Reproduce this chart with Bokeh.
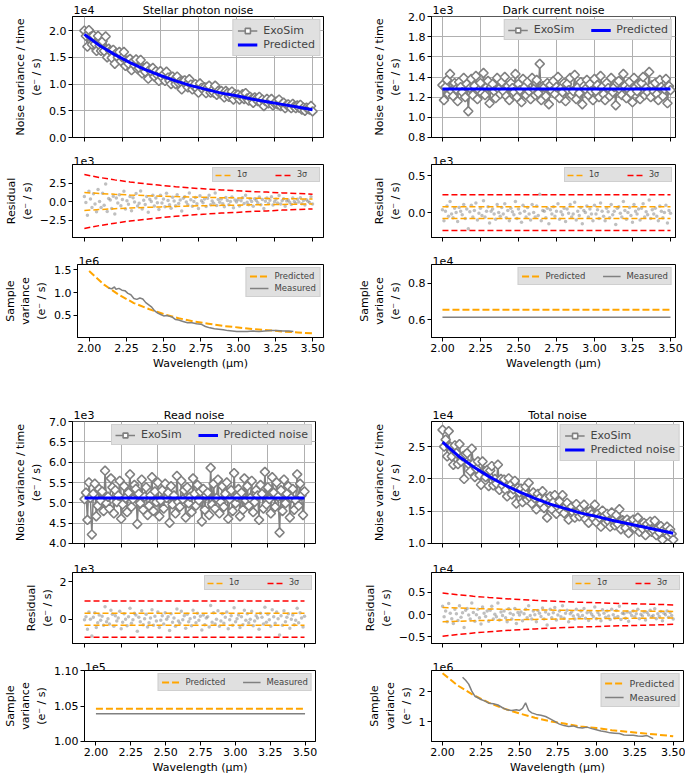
import numpy as np
from bokeh.plotting import figure
from bokeh.models import (Range1d, FixedTicker, CustomJSTickFormatter, Legend, LegendItem,
                          LinearAxis)
from bokeh.layouts import column, row
from bokeh.embed import file_html
from bokeh.resources import INLINE

FONT = "DejaVu Sans"
GRAY = "#808080"
ORANGE = "#FFA500"
RED = "#FF0000"
BLUE = "#0000FF"

# ---------------- data ----------------
wl_knots = [2.0, 2.1, 2.2, 2.3, 2.4, 2.5, 2.6, 2.7, 2.8, 2.9, 3.0, 3.1, 3.2, 3.3, 3.4, 3.5]
wl_flat = [2.0, 3.5]
x_ticks = [2.0, 2.25, 2.5, 2.75, 3.0, 3.25, 3.5]

# Stellar photon noise (main x1e4, residual x1e3, sample variance x1e6)
stellar_exosim = [2.00, 1.90, 1.70, 2.01, 1.88, 1.74, 1.91, 1.75, 1.62, 1.90,
                  1.72, 1.62, 1.80, 1.62, 1.89, 1.50, 1.66, 1.62, 1.49, 1.64,
                  1.38, 1.58, 1.50, 1.60, 1.43, 1.50, 1.60, 1.34, 1.44, 1.38,
                  1.47, 1.26, 1.42, 1.35, 1.46, 1.28, 1.30, 1.45, 1.20, 1.30,
                  1.23, 1.33, 1.10, 1.27, 1.23, 1.30, 1.14, 1.24, 1.17, 1.06,
                  1.24, 1.13, 1.18, 1.06, 1.23, 1.12, 1.06, 1.00, 1.14, 1.08,
                  1.00, 1.14, 1.02, 1.05, 0.90, 1.06, 1.07, 0.99, 0.94, 1.09,
                  0.99, 0.90, 0.96, 1.00, 0.91, 0.84, 1.01, 0.93, 0.90, 0.94,
                  0.83, 0.94, 0.97, 0.84, 0.88, 0.84, 0.97, 0.80, 0.87, 0.83,
                  0.87, 0.80, 0.75, 0.87, 0.83, 0.76, 0.80, 0.86, 0.71, 0.81,
                  0.78, 0.80, 0.71, 0.77, 0.81, 0.72, 0.83, 0.73, 0.69, 0.76,
                  0.72, 0.65, 0.75, 0.72, 0.68, 0.76, 0.65, 0.71, 0.59, 0.68,
                  0.72, 0.64, 0.68, 0.72, 0.60, 0.64, 0.67, 0.62, 0.71, 0.59,
                  0.63, 0.65, 0.55, 0.61, 0.62, 0.58, 0.55, 0.63, 0.58, 0.55,
                  0.60, 0.56, 0.61, 0.52, 0.56, 0.50, 0.56, 0.54, 0.52, 0.59,
                  0.49]
stellar_pred = [1.93, 1.72, 1.55, 1.40, 1.27, 1.16, 1.06, 0.97, 0.90, 0.83, 0.78, 0.72, 0.67, 0.62, 0.57, 0.52]
stellar_resid = [0.69, -0.12, -1.84, 1.38, 0.35, -0.81, 1.04, -0.35, -1.38, 1.61,
                 0.00, -0.82, 1.13, -0.52, 2.37, -1.34, 0.41, 0.21, -0.93, 0.72,
                 -1.67, 0.47, -0.19, 0.93, -0.56, 0.28, 1.40, -1.02, 0.09, -0.37,
                 0.67, -1.26, 0.50, -0.08, 1.09, -0.59, -0.25, 1.43, -1.01, 0.17,
                 -0.39, 0.69, -1.46, 0.31, 0.00, 0.85, -0.62, 0.46, -0.15, -1.08,
                 0.84, -0.21, 0.35, -0.70, 1.12, 0.14, -0.42, -0.91, 0.56, 0.07,
                 -0.58, 0.90, -0.26, 0.19, -1.28, 0.45, 0.64, -0.06, -0.45, 1.15,
                 0.24, -0.65, 0.00, 0.53, -0.30, -0.94, 0.77, 0.12, -0.18, 0.35,
                 -0.66, 0.44, 0.83, -0.44, 0.06, -0.22, 1.16, -0.55, 0.28, -0.11,
                 0.35, -0.30, -0.70, 0.55, 0.15, -0.45, 0.00, 0.60, -0.85, 0.20,
                 -0.05, 0.24, -0.61, 0.09, 0.52, -0.28, 0.85, -0.09, -0.42, 0.33,
                 0.00, -0.65, 0.39, 0.13, -0.17, 0.60, -0.43, 0.26, -0.95, 0.04,
                 0.48, -0.28, 0.16, 0.64, -0.48, -0.04, 0.32, -0.20, 0.80, -0.32,
                 0.11, 0.37, -0.63, 0.07, 0.22, -0.11, -0.41, 0.48, 0.00, -0.22,
                 0.31, -0.07, 0.51, -0.31, 0.14, -0.48, 0.24, 0.03, -0.14, 0.65,
                 -0.33]
stellar_predvar = [1.47, 1.17, 0.95, 0.77, 0.64, 0.53, 0.44, 0.37, 0.32, 0.27, 0.24, 0.20, 0.18, 0.15, 0.13, 0.11]
stellar_meas_wl = [2.13, 2.15, 2.17, 2.18, 2.20, 2.22, 2.24, 2.26, 2.28, 2.30,
                   2.32, 2.34, 2.36, 2.38, 2.40, 2.42, 2.44, 2.46, 2.48, 2.50,
                   2.52, 2.54, 2.56, 2.58, 2.60, 2.63, 2.66, 2.69, 2.72, 2.75,
                   2.78, 2.81, 2.84, 2.87, 2.90, 2.93, 2.96, 2.99, 3.02, 3.06,
                   3.10, 3.14, 3.18, 3.22, 3.26, 3.30, 3.34, 3.37]
stellar_meas_var = [1.10, 1.08, 1.12, 1.07, 1.09, 1.05, 1.04, 0.98, 0.95, 0.87,
                    0.85, 0.88, 0.86, 0.78, 0.73, 0.68, 0.60, 0.55, 0.52, 0.49,
                    0.50, 0.48, 0.46, 0.41, 0.40, 0.37, 0.34, 0.34, 0.32, 0.31,
                    0.26, 0.23, 0.21, 0.20, 0.19, 0.17, 0.16, 0.15, 0.15, 0.15,
                    0.16, 0.15, 0.16, 0.17, 0.17, 0.16, 0.16, 0.15]

# Dark current noise (main x1e3, residual x1e3, sample variance x1e4)
dark_level = 1.28
dark_resid = [0.04, -0.11, 0.02, 0.09, -0.05, 0.15, -0.02, -0.07, 0.06, 0.00,
              -0.12, 0.07, 0.02, -0.03, 0.11, -0.08, 0.05, -0.22, 0.01, 0.10,
              -0.06, 0.03, 0.13, -0.10, -0.01, 0.06, -0.04, 0.16, -0.06, 0.02,
              0.08, -0.14, 0.02, 0.05, -0.02, -0.09, 0.11, 0.00, -0.05, 0.07,
              -0.02, 0.12, -0.07, 0.03, -0.11, 0.06, 0.01, -0.03, 0.15, -0.08,
              0.05, -0.01, -0.13, 0.10, 0.02, -0.06, 0.07, -0.02, -0.10, 0.11,
              0.00, -0.06, 0.09, -0.04, 0.25, -0.11, 0.03, 0.02, -0.07, 0.06,
              -0.15, 0.04, -0.02, 0.08, -0.05, 0.02, 0.12, -0.09, 0.01, -0.03,
              0.06, -0.12, 0.05, -0.01, 0.11, -0.06, -0.02, 0.14, -0.10, 0.02,
              -0.04, 0.07, -0.15, 0.03, 0.00, 0.09, -0.06, 0.05, -0.02, -0.11,
              0.10, -0.02, 0.04, -0.08, 0.13, 0.02, -0.05, -0.11, 0.06, 0.01,
              -0.07, 0.11, -0.03, 0.02, -0.16, 0.06, 0.08, -0.01, -0.06, 0.15,
              0.03, -0.09, 0.00, 0.07, -0.04, -0.13, 0.11, 0.02, -0.02, 0.05,
              -0.10, 0.06, 0.12, -0.06, 0.01, -0.03, 0.17, -0.08, 0.04, -0.02,
              0.06, -0.05, -0.11, 0.09, 0.02, -0.07, 0.00, 0.10, -0.14, 0.03,
              -0.01]
dark_predvar = [0.655, 0.655]
dark_meas_var = [0.613, 0.613]

# Read noise (main x1e3, residual x1e3, sample variance x1e5)
read_level = 5.12
read_resid = [-0.03,
              0.13, -0.54, 0.38, 0.00, -0.90, 0.10, 0.35, -0.45, -0.19, 0.22,
              -0.06, 0.16, -0.32, 0.67, -0.13, 0.03, -0.26, 0.48, 0.26, -0.38,
              0.19, -0.10, 0.06, 0.42, -0.51, -0.16, 0.29, 0.00, -0.35, 0.13,
              0.58, -0.22, -0.03, 0.32, 0.22, -0.64, 0.10, -0.13, 0.45, -0.29,
              0.03, 0.26, -0.42, -0.19, 0.06, 0.51, -0.32, 0.16, -0.10, 0.38,
              -0.45, -0.06, 0.19, -0.26, 0.35, 0.00, 0.13, -0.61, 0.29, -0.16,
              0.06, -0.38, 0.54, -0.10, -0.22, 0.42, -0.03, 0.19, -0.48, 0.26,
              -0.13, 0.03, -0.35, 0.48, 0.10, -0.19, 0.32, -0.06, 0.16, -0.58,
              0.22, -0.29, 0.06, 0.13, -0.42, 0.74, -0.16, 0.35, -0.26, 0.00,
              0.45, -0.38, -0.10, 0.29, -0.22, 0.10, 0.38, -0.51, -0.03, 0.19,
              -0.32, 0.61, -0.13, 0.03, 0.22, -0.45, 0.13, -0.29, 0.48, -0.06,
              0.29, -0.19, 0.00, 0.42, -0.35, -0.10, 0.19, 0.06, -0.54, 0.32,
              0.10, -0.26, 0.64, -0.16, 0.26, -0.03, -0.38, 0.51, 0.13, -0.22,
              0.38, 0.03, -0.85, 0.19, -0.32, 0.45, -0.13, 0.10, 0.29, -0.48,
              0.00, 0.22, -0.29, -0.06, 0.58, -0.19, 0.35, 0.06, -0.42, 0.16]
read_predvar = [1.046, 1.046]
read_meas_var = [1.039, 1.039]

# Total noise (main x1e4, residual x1e4, sample variance x1e6)
total_exosim = [2.76, 2.50, 2.61, 2.35, 2.74, 2.50, 2.35, 2.22, 2.52, 2.40,
                2.23, 2.54, 2.27, 2.35, 2.00, 2.38, 2.40, 2.23, 2.12, 2.47,
                2.24, 2.03, 2.16, 2.27, 2.06, 1.91, 2.27, 2.12, 2.03, 2.14,
                1.89, 2.13, 2.20, 1.90, 2.00, 1.93, 2.22, 1.83, 2.00, 1.90,
                1.99, 1.83, 1.73, 2.01, 1.90, 1.76, 1.84, 1.97, 1.62, 1.86,
                1.79, 1.85, 1.64, 1.79, 1.88, 1.68, 1.94, 1.71, 1.62, 1.79,
                1.70, 1.53, 1.77, 1.70, 1.62, 1.81, 1.55, 1.70, 1.40, 1.63,
                1.73, 1.53, 1.64, 1.75, 1.46, 1.57, 1.65, 1.51, 1.75, 1.47,
                1.57, 1.63, 1.37, 1.54, 1.57, 1.48, 1.40, 1.61, 1.48, 1.42,
                1.55, 1.45, 1.60, 1.38, 1.49, 1.32, 1.50, 1.45, 1.39, 1.60,
                1.33, 1.46, 1.40, 1.26, 1.51, 1.42, 1.32, 1.46, 1.34, 1.26,
                1.48, 1.36, 1.28, 1.44, 1.30, 1.53, 1.22, 1.36, 1.34, 1.24,
                1.37, 1.16, 1.34, 1.28, 1.37, 1.24, 1.30, 1.40, 1.18, 1.28,
                1.23, 1.32, 1.13, 1.30, 1.23, 1.34, 1.18, 1.21, 1.35, 1.13,
                1.23, 1.17, 1.27, 1.06, 1.22, 1.19, 1.26, 1.12, 1.22, 1.15,
                1.06]
total_pred = [2.57, 2.36, 2.19, 2.04, 1.91, 1.80, 1.70, 1.61, 1.54, 1.47, 1.42, 1.36, 1.31, 1.26, 1.21, 1.16]
total_resid = [0.19, -0.05, 0.08, -0.16, 0.25, 0.03, -0.09, -0.20, 0.12, 0.02,
               -0.13, 0.20, -0.06, 0.04, -0.29, 0.10, 0.14, -0.01, -0.10, 0.26,
               0.05, -0.15, 0.00, 0.12, -0.07, -0.21, 0.17, 0.03, -0.04, 0.08,
               -0.15, 0.10, 0.19, -0.10, 0.01, -0.05, 0.26, -0.12, 0.06, -0.02,
               0.08, -0.07, -0.16, 0.13, 0.03, -0.10, 0.00, 0.14, -0.20, 0.05,
               -0.01, 0.06, -0.14, 0.02, 0.12, -0.07, 0.20, -0.02, -0.10, 0.08,
               0.00, -0.16, 0.09, 0.03, -0.04, 0.15, -0.10, 0.06, -0.23, 0.01,
               0.12, -0.07, 0.04, 0.16, -0.12, -0.01, 0.08, -0.05, 0.20, -0.08,
               0.03, 0.10, -0.16, 0.02, 0.06, -0.03, -0.10, 0.12, 0.00, -0.06,
               0.08, -0.02, 0.14, -0.08, 0.04, -0.13, 0.06, 0.01, -0.04, 0.17,
               -0.09, 0.05, -0.01, -0.14, 0.11, 0.03, -0.06, 0.08, -0.03, -0.11,
               0.12, 0.00, -0.07, 0.09, -0.04, 0.19, -0.11, 0.03, 0.02, -0.08,
               0.06, -0.15, 0.04, -0.02, 0.08, -0.05, 0.02, 0.12, -0.09, 0.01,
               -0.03, 0.06, -0.12, 0.05, -0.01, 0.10, -0.05, -0.02, 0.13, -0.09,
               0.02, -0.04, 0.07, -0.14, 0.03, 0.00, 0.08, -0.06, 0.05, -0.02,
               -0.10]
total_predvar = [2.61, 2.20, 1.89, 1.64, 1.44, 1.28, 1.14, 1.02, 0.94, 0.85, 0.80, 0.73, 0.68, 0.63, 0.58, 0.53]
total_meas_wl = [2.13, 2.15, 2.17, 2.19, 2.21, 2.23, 2.25, 2.28, 2.30, 2.33,
                 2.36, 2.39, 2.42, 2.45, 2.48, 2.50, 2.52, 2.54, 2.56, 2.58,
                 2.61, 2.64, 2.67, 2.70, 2.73, 2.76, 2.79, 2.82, 2.85, 2.88,
                 2.91, 2.94, 2.97, 3.00, 3.03, 3.06, 3.09, 3.12, 3.15, 3.18,
                 3.21, 3.24, 3.27, 3.30, 3.33, 3.35, 3.37]
total_meas_var = [2.48, 2.38, 2.25, 2.02, 1.85, 1.80, 1.74, 1.68, 1.62, 1.60,
                  1.56, 1.47, 1.40, 1.38, 1.40, 1.38, 1.45, 1.63, 1.38, 1.30,
                  1.25, 1.22, 1.18, 1.10, 1.02, 0.93, 0.88, 0.85, 0.87, 0.82,
                  0.80, 0.83, 0.78, 0.74, 0.70, 0.68, 0.64, 0.63, 0.62, 0.57,
                  0.56, 0.56, 0.54, 0.53, 0.55, 0.50, 0.45]

# main-series values of the flat panels: predicted level + residual
dark_exosim = (dark_level + np.asarray(dark_resid)).tolist()
read_exosim = (read_level + np.asarray(read_resid)).tolist()


# ---------------- helpers ----------------
def fmt(dec):
    return CustomJSTickFormatter(code="return tick.toFixed(%d).replace('-', '\u2212');" % dec)


def style_axis(ax):
    ax.axis_line_color = "black"
    ax.major_tick_line_color = "black"
    ax.major_tick_out = 4
    ax.major_tick_in = 0
    ax.minor_tick_line_color = None
    ax.major_label_text_font = FONT
    ax.major_label_text_font_size = "11px"
    ax.major_label_text_color = "black"
    ax.axis_label_text_font = FONT
    ax.axis_label_text_font_size = "11px"
    ax.axis_label_text_font_style = "normal"
    ax.axis_label_text_color = "black"


def base_fig(geom, xr, yr, yticks, ydec, ylabel, offset, title=None, xlabels=False, grid=False):
    w, h, bl, br, bt, bb = geom
    p = figure(width=w, height=h, x_range=Range1d(*xr), y_range=Range1d(*yr),
               min_border_left=bl, min_border_right=br, min_border_top=bt, min_border_bottom=bb,
               output_backend="svg", toolbar_location=None, tools="")
    p.outline_line_color = "black"
    p.outline_line_width = 1
    p.background_fill_color = "white"
    p.border_fill_color = "white"
    style_axis(p.xaxis[0])
    style_axis(p.yaxis[0])
    p.xaxis.ticker = FixedTicker(ticks=x_ticks)
    p.yaxis.ticker = FixedTicker(ticks=yticks)
    p.yaxis.formatter = fmt(ydec)
    p.yaxis.major_label_standoff = 2
    p.yaxis.axis_label = ylabel
    p.yaxis.axis_label_standoff = 3
    if xlabels:
        p.xaxis.formatter = fmt(2)
        p.xaxis.major_label_standoff = 2
        p.xaxis.axis_label = "Wavelength (\u03bcm)"
        p.xaxis.axis_label_standoff = 2
    else:
        p.xaxis.major_label_text_font_size = "1px"
        p.xaxis.major_label_text_alpha = 0
        p.xaxis.major_label_standoff = 0
    if grid:
        p.xgrid.ticker = FixedTicker(ticks=x_ticks)
        p.ygrid.ticker = FixedTicker(ticks=yticks)
        p.grid.grid_line_color = "#b0b0b0"
        p.grid.grid_line_width = 1
    else:
        p.grid.visible = False

    # texts above the frame: scale factor (left) and panel title (centre)
    frame_w = w - bl - br
    ticks = [xr[0] + 11.5 * (xr[1] - xr[0]) / frame_w]
    labels = [offset]
    if title:
        ticks.append((xr[0] + xr[1]) / 2)
        labels.append(title)
    top = LinearAxis(ticker=FixedTicker(ticks=ticks),
                     formatter=CustomJSTickFormatter(args=dict(labels=labels), code="return labels[index];"),
                     axis_line_color=None, major_tick_line_color=None, minor_tick_line_color=None,
                     major_tick_out=0, major_tick_in=0, major_label_standoff=0,
                     major_label_text_font=FONT, major_label_text_font_size="11px",
                     major_label_text_color="black")
    p.add_layout(top, "above")
    return p


def add_legend(p, items, orientation, font_size, glyph_w, glyph_h, standoff, spacing, padding, margin=3):
    lg = Legend(items=[LegendItem(label=l, renderers=r) for l, r in items],
                location="top_right", orientation=orientation,
                label_text_font=FONT, label_text_font_size=font_size,
                glyph_width=glyph_w, glyph_height=glyph_h, label_height=glyph_h,
                label_standoff=standoff, spacing=spacing, padding=padding, margin=margin,
                background_fill_color="#e0e0e0", background_fill_alpha=1.0,
                border_line_color="#bdbdbd", border_line_width=1)
    p.add_layout(lg)


def main_panel(geom, xr, yr, yticks, offset, title, exo, pred_x, pred_y, pred_label, orient):
    p = base_fig(geom, xr, yr, yticks, 1, "Noise variance / time\n(e\u207b / s)", offset, title, grid=True)
    x = np.linspace(2.0, 3.5, len(exo))
    rl = p.line(x, exo, line_color=GRAY, line_width=1.5)
    rs = p.scatter(x, exo, marker="square", angle=np.pi / 4, size=6.5, line_color=GRAY,
                   line_width=1.6, fill_color="white")
    rp = p.line(pred_x, pred_y, line_color=BLUE, line_width=3)
    if orient == "vertical":
        add_legend(p, [("ExoSim", [rl, rs]), (pred_label, [rp])], "vertical", "11px", 20, 13, 6, 1, 4)
    else:
        add_legend(p, [("ExoSim", [rl, rs]), (pred_label, [rp])], "horizontal", "11px", 20, 12, 6, 16, 3)
    return p


def resid_panel(geom, xr, yr, yticks, ydec, offset, resid, sig_x, sig):
    p = base_fig(geom, xr, yr, yticks, ydec, "Residual\n(e\u207b / s)", offset)
    x = np.linspace(2.0, 3.5, len(resid))
    p.scatter(x, resid, size=3.5, fill_color=GRAY, fill_alpha=0.5, line_color=None)
    sig = np.asarray(sig)
    r1 = p.line(sig_x, sig, line_color=ORANGE, line_width=1.5, line_dash="6 3")
    p.line(sig_x, -sig, line_color=ORANGE, line_width=1.5, line_dash="6 3")
    r3 = p.line(sig_x, 3 * sig, line_color=RED, line_width=1.5, line_dash="6 3")
    p.line(sig_x, -3 * sig, line_color=RED, line_width=1.5, line_dash="6 3")
    add_legend(p, [("1\u03c3", [r1]), ("3\u03c3", [r3])], "horizontal", "8px", 16, 8, 6, 18, 2)
    return p


def sample_panel(geom, xr, yr, yticks, ydec, offset, px, pv, mx, mv, orient, fsize="8.5px"):
    p = base_fig(geom, xr, yr, yticks, ydec, "Sample\nvariance\n(e\u207b / s)", offset, xlabels=True)
    rp = p.line(px, pv, line_color=ORANGE, line_width=2, line_dash="7 3")
    rm = p.line(mx, mv, line_color=GRAY, line_width=1.5)
    if orient == "vertical":
        gh = 12 if fsize == "9.5px" else 10
        add_legend(p, [("Predicted", [rp]), ("Measured", [rm])], "vertical", fsize, 19, gh, 6, 2, 3)
    else:
        add_legend(p, [("Predicted", [rp]), ("Measured", [rm])], "horizontal", fsize, 18, 10, 6, 17, 3)
    return p


def sigma_from(predvar, var_exp, res_exp):
    return np.sqrt(np.asarray(predvar) * 10.0 ** var_exp) / 10.0 ** res_exp


# ---------------- geometry ----------------
TL = dict(w=342, bl=72, br=19)
TR = dict(w=343, bl=89, br=10)
BL = dict(w=342, bl=72, br=27)
BR = dict(w=343, bl=89, br=2)
ROWS = [(150, 14, 13), (100, 14, 13), (135, 14, 48), (165, 36, 7), (100, 22, 7), (126, 20, 34)]


def g(col, r):
    h, bt, bb = ROWS[r]
    return (col["w"], h, col["bl"], col["br"], bt, bb)


xr_tl = (1.922, 3.572)
xr_tr = (1.928, 3.533)
xr_bl = (1.918, 3.575)
xr_br = (1.928, 3.567)

# Stellar
tl_a = main_panel(g(TL, 0), xr_tl, (0.0, 2.264), [0.0, 0.5, 1.0, 1.5, 2.0], "1e4",
                  "Stellar photon noise", stellar_exosim, wl_knots, stellar_pred, "Predicted", "vertical")
tl_b = resid_panel(g(TL, 1), xr_tl, (-4.86, 5.0), [-2.5, 0.0, 2.5], 1, "1e3", stellar_resid,
                   wl_knots, sigma_from(stellar_predvar, 6, 3))
tl_c = sample_panel(g(TL, 2), xr_tl, (0.02, 1.61), [0.5, 1.0, 1.5], 1, "1e6",
                    wl_knots, stellar_predvar, stellar_meas_wl, stellar_meas_var, "vertical")

# Dark
tr_a = main_panel(g(TR, 0), xr_tr, (0.7999, 2.0001), [0.8, 1.0, 1.2, 1.4, 1.6, 1.8, 2.0], "1e3",
                  "Dark current noise", dark_exosim, wl_flat, [dark_level, dark_level], "Predicted", "horizontal")
tr_b = resid_panel(g(TR, 1), xr_tr, (-0.338, 0.653), [0.0, 0.5], 1, "1e3", dark_resid,
                   wl_flat, sigma_from(dark_predvar, 4, 3))
tr_c = sample_panel(g(TR, 2), xr_tr, (0.503, 0.902), [0.6, 0.8], 1, "1e4",
                    wl_flat, dark_predvar, wl_flat, dark_meas_var, "horizontal")

# Read
bl_d = main_panel(g(BL, 3), xr_bl, (3.9999, 7.0001), [4.0, 4.5, 5.0, 5.5, 6.0, 6.5, 7.0], "1e3",
                  "Read noise", read_exosim, wl_flat, [read_level, read_level], "Predicted noise", "horizontal")
bl_e = resid_panel(g(BL, 4), xr_bl, (-1.3, 2.5), [0.0, 2.0], 0, "1e3", read_resid,
                   wl_flat, sigma_from(read_predvar, 5, 3))
bl_f = sample_panel(g(BL, 5), xr_bl, (0.99999, 1.10001), [1.0, 1.05, 1.1], 2, "1e5",
                    wl_flat, read_predvar, wl_flat, read_meas_var, "horizontal")

# Total
br_d = main_panel(g(BR, 3), xr_br, (0.9999, 2.89), [1.0, 1.5, 2.0, 2.5], "1e4",
                  "Total noise", total_exosim, wl_knots, total_pred, "Predicted noise", "vertical")
br_e = resid_panel(g(BR, 4), xr_br, (-0.647, 0.944), [-0.5, 0.0, 0.5], 1, "1e4", total_resid,
                   wl_knots, sigma_from(total_predvar, 6, 4))
br_f = sample_panel(g(BR, 5), xr_br, (0.355, 2.70), [1.0, 2.0], 0, "1e6",
                    wl_knots, total_predvar, total_meas_wl, total_meas_var, "vertical", fsize="9.5px")

layout = column(
    row(tl_a, tr_a), row(tl_b, tr_b), row(tl_c, tr_c),
    row(bl_d, br_d), row(bl_e, br_e), row(bl_f, br_f),
)

open("out.html", "w").write(file_html(layout, INLINE))
